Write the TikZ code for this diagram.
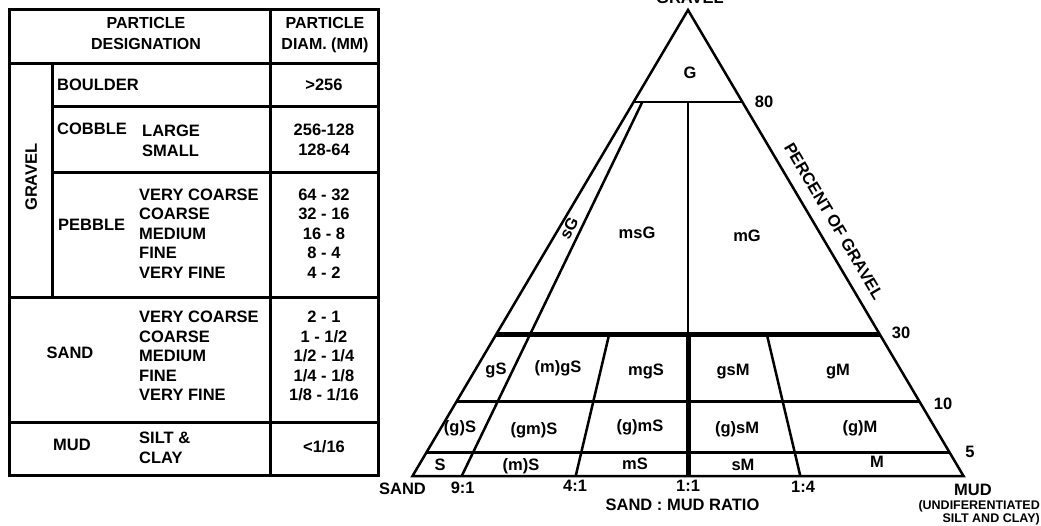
\documentclass[tikz,border=0pt]{standalone}
\usepackage{fontspec}
\setmainfont{Liberation Sans}
\usetikzlibrary{calc}

\begin{document}
\begin{tikzpicture}[
  x=1pt, y=-1pt,
  lbl/.style={font=\fontsize{16.5}{19.6}\selectfont\bfseries, inner sep=0pt, text depth=0pt},
  lblw/.style={lbl, anchor=west, align=left},
  lblc/.style={lbl, align=center},
  head/.style={lbl, align=center, font=\fontsize{16}{21}\selectfont\bfseries},
  note/.style={font=\fontsize{12.5}{13}\selectfont\bfseries, inner sep=0pt, text depth=0pt, align=right},
  rule/.style={line width=3pt},
  tri/.style={line width=2.5pt, line join=miter},
  heavy/.style={line width=5pt}
]
\useasboundingbox (0,0) rectangle (1041,525);

% size table
\draw[rule] (9,9) rectangle (378,475);
\draw[rule] (9,63) -- (378,63);
\draw[rule] (52,106) -- (378,106);
\draw[rule] (52,172) -- (378,172);
\draw[rule] (9,297) -- (378,297);
\draw[rule] (9,422) -- (378,422);
\draw[rule] (270,9) -- (270,475);
\draw[rule] (52,63) -- (52,297);

\node[head] (hdname) at (146,33) {PARTICLE\\DESIGNATION};
\node[head] (hddiam) at (325,33) {PARTICLE\\DIAM. (MM)};
\node[lbl, rotate=90] (grpgravel) at (31,177) {GRAVEL};
\node[lblw] (boulder) at (57,85) {BOULDER};
\node[lblw] (cobble) at (57,129) {COBBLE};
\node[lblw] (cobblesub) at (142,141) {LARGE\\SMALL};
\node[lblw] (pebble) at (58,225) {PEBBLE};
\node[lblw] (pebblesub) at (139,233.5) {VERY COARSE\\COARSE\\MEDIUM\\FINE\\VERY FINE};
\node[lbl] (grpsand) at (70,353) {SAND};
\node[lblw] (sandsub) at (139,356) {VERY COARSE\\COARSE\\MEDIUM\\FINE\\VERY FINE};
\node[lbl] (grpmud) at (72,445) {MUD};
\node[lblw] (mudsub) at (139,447.5) {SILT \&\\CLAY};

\node[lblc] (dboulder) at (324,85) {>256};
\node[lblc] (dcobble) at (324,140) {256-128\\128-64};
\node[lblc] (dpebble) at (324,233.5) {64 - 32\\32 - 16\\16 - 8\\8 - 4\\4 - 2};
\node[lblc] (dsand) at (324,356) {2 - 1\\1 - 1/2\\1/2 - 1/4\\1/4 - 1/8\\1/8 - 1/16};
\node[lblc] (dmud) at (324,447) {<1/16};

% ternary diagram
\coordinate (gravel) at (688,10);
\coordinate (sand) at (412.5,476);
\coordinate (mud) at (963.5,476);
\coordinate (l80) at ($(sand)!0.8026!(gravel)$);
\coordinate (r80) at ($(mud)!0.8026!(gravel)$);
\coordinate (l30) at ($(sand)!0.3026!(gravel)$);
\coordinate (r30) at ($(mud)!0.3026!(gravel)$);
\coordinate (l10) at ($(sand)!0.1594!(gravel)$);
\coordinate (r10) at ($(mud)!0.1594!(gravel)$);
\coordinate (l5) at ($(sand)!0.0509!(gravel)$);
\coordinate (r5) at ($(mud)!0.0509!(gravel)$);
\coordinate (b91) at (461.7,476);
\coordinate (t91) at (642.3,102);
\coordinate (b41) at (575.7,476);
\coordinate (t41) at (609,335);
\coordinate (b11) at ($(sand)!0.5!(mud)$);
\coordinate (m11) at (688,335);
\coordinate (t11) at (688,102);
\coordinate (b14) at (800.3,476);
\coordinate (t14) at (767,335);

\draw[tri] (l80) -- (r80);
\draw[tri] (l10) -- (r10);
\draw[tri] (l5) -- (r5);
\draw[tri] (b91) -- (t91);
\draw[tri] (b41) -- (t41);
\draw[tri] (b14) -- (t14);
\draw[tri] (m11) -- (t11);
\draw[heavy] (l30) -- (r30);
\draw[heavy] (b11) -- (m11);
\draw[tri] (sand) -- (gravel) -- (mud) -- cycle;

\node[lbl, anchor=base] (capgravel) at (690,3.5) {GRAVEL};
\node[lbl] (cG) at (690,73) {G};
\node[lbl] (p80) at (764,102) {80};
\node[lbl, rotate=-59.4] (axis) at (834,221) {PERCENT OF GRAVEL};
\node[lbl, rotate=62] (csG) at (569,228) {sG};
\node[lbl] (cmsG) at (637,233) {msG};
\node[lbl] (cmG) at (747,236) {mG};
\node[lbl] (p30) at (901,333) {30};
\node[lbl] (p10) at (943,404) {10};
\node[lbl] (p5) at (970,452) {5};

\node[lbl] (cgS) at (496,369) {gS};
\node[lbl] (cmgS) at (558,367) {(m)gS};
\node[lbl] (cmgS2) at (646,370) {mgS};
\node[lbl] (cgsM) at (733,370) {gsM};
\node[lbl] (cgM) at (838,370) {gM};

\node[lbl] (cgS3) at (460,427) {(g)S};
\node[lbl] (cgmS) at (534,429) {(gm)S};
\node[lbl] (cgmS3) at (640,426) {(g)mS};
\node[lbl] (cgsM3) at (737,428) {(g)sM};
\node[lbl] (cgM3) at (860,427) {(g)M};

\node[lbl] (cS) at (440,465) {S};
\node[lbl] (cmS) at (521,465) {(m)S};
\node[lbl] (cmS2) at (635,464) {mS};
\node[lbl] (csM) at (743,465) {sM};
\node[lbl] (cM) at (877,462) {M};

\node[lbl] (vsand) at (402.5,489) {SAND};
\node[lbl] (r91) at (462.7,488) {9:1};
\node[lbl] (r41) at (575,486) {4:1};
\node[lbl] (r11) at (688,486) {1:1};
\node[lbl] (r14) at (803,487) {1:4};
\node[lbl] (ratio) at (682.5,505) {SAND : MUD RATIO};
\node[lbl] (vmud) at (973,490) {MUD};
\node[note, anchor=east] (mudnote) at (1040,511.5) {(UNDIFERENTIATED\\SILT AND CLAY)};
\end{tikzpicture}
\end{document}
